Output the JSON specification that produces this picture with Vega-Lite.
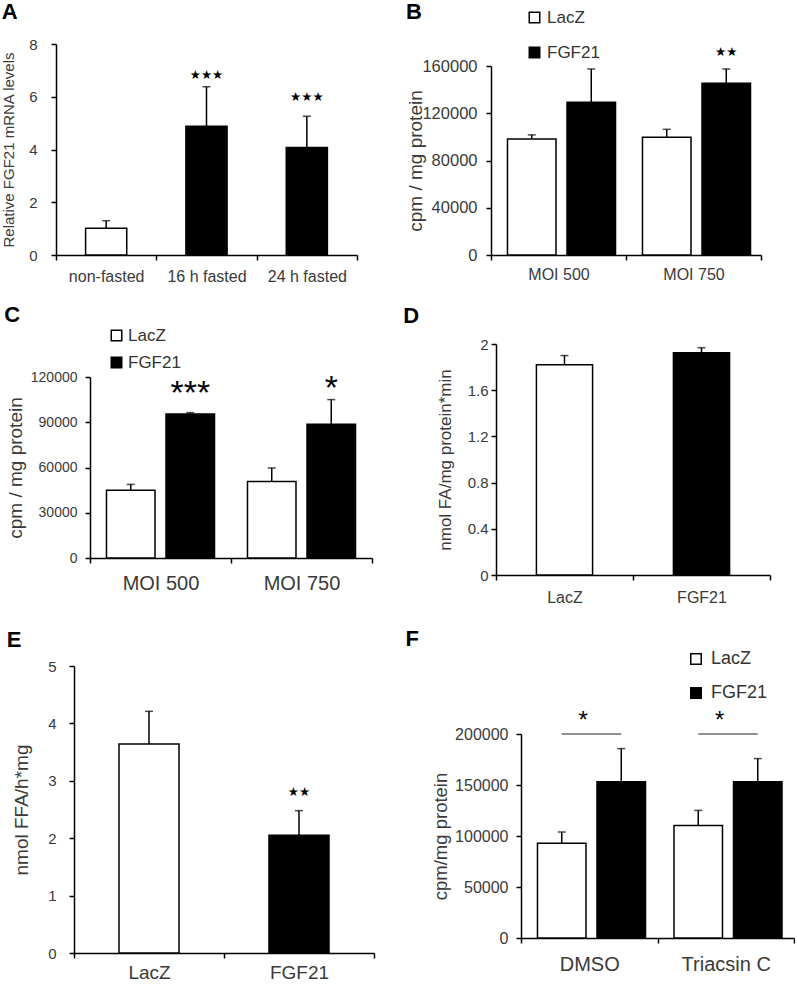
{
  "$schema": "https://vega.github.io/schema/vega-lite/v6.json",
  "padding": 0,
  "spacing": 0,
  "columns": 2,
  "align": "none",
  "resolve": {"scale": {"fill": "independent"}, "legend": {"fill": "independent"}},
  "config": {
    "view": {"stroke": null},
    "axis": {"domainColor": "black", "domainWidth": 1.5, "tickColor": "black", "tickWidth": 1.5, "tickSize": 5, "grid": false,
      "labelColor": "#3a3a3a", "titleColor": "#3a3a3a", "labelFont": "Liberation Sans", "titleFont": "Liberation Sans", "titleFontWeight": "normal"},
    "legend": {"labelFont": "Liberation Sans", "labelColor": "#333333", "symbolType": "square", "symbolSize": 110, "symbolStrokeColor": "black", "symbolStrokeWidth": 1.5, "padding": 0},
    "title": {"font": "Liberation Sans", "fontSize": 22, "fontWeight": "bold", "anchor": "start", "color": "black"}
  },
  "concat": [
    {
      "columns": 1, "align": "none", "spacing": 0,
      "resolve": {"scale": {"fill": "independent"}, "legend": {"fill": "independent"}},
      "concat": [
        {"width": 1, "height": 1, "data": {"values": []}, "mark": "point"},
        {
          "columns": 2, "align": "none", "spacing": 0,
          "resolve": {"scale": {"fill": "independent"}, "legend": {"fill": "independent"}},
          "concat": [
            {"width": 1, "height": 260, "data": {"values": []}, "mark": "point"},
            {
              "title": {"text": "A", "offset": 13},
              "width": 301, "height": 211,
              "data": {"values": [
                {"cond": "non-fasted", "kind": "control", "value": 1.01, "errTop": 1.30, "sig": ""},
                {"cond": "16 h fasted", "kind": "fasted", "value": 4.88, "errTop": 6.38, "sig": "★★★"},
                {"cond": "24 h fasted", "kind": "fasted", "value": 4.08, "errTop": 5.26, "sig": "★★★"}
              ]},
              "encoding": {
                "x": {"field": "cond", "type": "nominal", "sort": null, "scale": {"paddingInner": 0, "paddingOuter": 0},
                  "axis": {"title": null, "labelAngle": 0, "tickBand": "extent", "labelFontSize": 16, "labelPadding": 8}}
              },
              "layer": [
                {"mark": {"type": "bar", "width": {"band": 0.41}, "stroke": "black", "strokeWidth": 1.5},
                 "encoding": {
                   "y": {"field": "value", "type": "quantitative", "scale": {"domain": [0, 8], "nice": false},
                     "axis": {"values": [0, 2, 4, 6, 8], "format": "d", "labelFontSize": 15, "labelPadding": 14, "title": "Relative FGF21 mRNA levels", "titleFontSize": 15, "titlePadding": 12}},
                   "fill": {"field": "kind", "type": "nominal", "scale": {"domain": ["control", "fasted"], "range": ["white", "black"]}, "legend": null}
                 }},
                {"mark": {"type": "rule", "strokeWidth": 1.5, "color": "black"},
                 "encoding": {"y": {"field": "value", "type": "quantitative"}, "y2": {"field": "errTop"}}},
                {"mark": {"type": "tick", "color": "black", "size": 8, "thickness": 1.5},
                 "encoding": {"y": {"field": "errTop", "type": "quantitative"}}},
                {"transform": [{"filter": "datum.cond == '16 h fasted'"}],
                 "mark": {"type": "text", "font": "DejaVu Sans", "fontSize": 12.5, "baseline": "alphabetic", "dy": -8, "color": "black"},
                 "encoding": {"y": {"field": "errTop", "type": "quantitative"}, "text": {"field": "sig"}}},
                {"transform": [{"filter": "datum.cond == '24 h fasted'"}],
                 "mark": {"type": "text", "font": "DejaVu Sans", "fontSize": 12.5, "baseline": "alphabetic", "dy": -15, "color": "black"},
                 "encoding": {"y": {"field": "errTop", "type": "quantitative"}, "text": {"field": "sig"}}}
              ]
            }
          ]
        },
        {
          "columns": 2, "align": "none", "spacing": 0,
          "resolve": {"scale": {"fill": "independent"}, "legend": {"fill": "independent"}},
          "concat": [
            {"width": 4, "height": 252, "data": {"values": []}, "mark": "point"},
            {
              "title": {"text": "C", "dx": -2, "offset": 0},
              "width": 282, "height": 181,
              "data": {"values": [
                {"moi": "MOI 500", "series": "LacZ", "value": 44900, "errTop": 48800, "sig": ""},
                {"moi": "MOI 500", "series": "FGF21", "value": 95500, "errTop": 96400, "sig": "***"},
                {"moi": "MOI 750", "series": "LacZ", "value": 50800, "errTop": 59700, "sig": ""},
                {"moi": "MOI 750", "series": "FGF21", "value": 88600, "errTop": 105000, "sig": "*"}
              ]},
              "encoding": {
                "x": {"field": "moi", "type": "nominal", "sort": null, "scale": {"paddingInner": 0, "paddingOuter": 0},
                  "axis": {"title": null, "labelAngle": 0, "tickBand": "extent", "labelFontSize": 20, "labelPadding": 10}},
                "xOffset": {"field": "series", "type": "nominal", "sort": null, "scale": {"domain": ["LacZ", "FGF21"], "paddingInner": 0.185, "paddingOuter": 0.277}}
              },
              "layer": [
                {"mark": {"type": "bar", "stroke": "black", "strokeWidth": 1.5},
                 "encoding": {
                   "y": {"field": "value", "type": "quantitative", "scale": {"domain": [0, 120000], "nice": false},
                     "axis": {"values": [0, 30000, 60000, 90000, 120000], "format": "d", "labelFontSize": 14, "labelPadding": 8, "title": "cpm / mg protein", "titleFontSize": 19, "titlePadding": 5}},
                   "fill": {"field": "series", "type": "nominal", "scale": {"domain": ["LacZ", "FGF21"], "range": ["white", "black"]},
                     "legend": {"title": null, "orient": "none", "legendX": 18, "legendY": -50, "direction": "vertical", "labelFontSize": 17, "rowPadding": 9, "labelOffset": 3}}
                 }},
                {"mark": {"type": "rule", "strokeWidth": 1.5, "color": "black"},
                 "encoding": {"y": {"field": "value", "type": "quantitative"}, "y2": {"field": "errTop"}}},
                {"mark": {"type": "tick", "color": "black", "size": 8, "thickness": 1.5},
                 "encoding": {"y": {"field": "errTop", "type": "quantitative"}}},
                {"transform": [{"filter": "datum.sig == '***'"}],
                 "mark": {"type": "text", "font": "Liberation Sans", "fontSize": 34, "baseline": "alphabetic", "dy": -9, "color": "black"},
                 "encoding": {"y": {"field": "errTop", "type": "quantitative"}, "text": {"field": "sig"}}},
                {"transform": [{"filter": "datum.sig == '*'"}],
                 "mark": {"type": "text", "font": "Liberation Sans", "fontSize": 34, "baseline": "alphabetic", "dy": -1, "color": "black"},
                 "encoding": {"y": {"field": "errTop", "type": "quantitative"}, "text": {"field": "sig"}}}
              ]
            }
          ]
        },
        {
          "columns": 2, "align": "none", "spacing": 0,
          "resolve": {"scale": {"fill": "independent"}, "legend": {"fill": "independent"}},
          "concat": [
            {"width": 6, "height": 1, "data": {"values": []}, "mark": "point"},
            {
              "title": {"text": "E", "dx": -6, "offset": 7},
              "width": 300, "height": 287,
              "data": {"values": [
                {"sample": "LacZ", "value": 3.64, "errTop": 4.21, "sig": ""},
                {"sample": "FGF21", "value": 2.05, "errTop": 2.48, "sig": "★★"}
              ]},
              "encoding": {
                "x": {"field": "sample", "type": "nominal", "sort": null, "scale": {"paddingInner": 0, "paddingOuter": 0},
                  "axis": {"title": null, "labelAngle": 0, "tickBand": "extent", "labelFontSize": 19, "labelPadding": 5}}
              },
              "layer": [
                {"mark": {"type": "bar", "width": {"band": 0.4}, "stroke": "black", "strokeWidth": 1.5},
                 "encoding": {
                   "y": {"field": "value", "type": "quantitative", "scale": {"domain": [0, 5], "nice": false},
                     "axis": {"values": [0, 1, 2, 3, 4, 5], "format": "d", "labelFontSize": 15, "labelPadding": 13, "title": "nmol FFA/h*mg", "titleFontSize": 19, "titlePadding": 16}},
                   "fill": {"field": "sample", "type": "nominal", "scale": {"domain": ["LacZ", "FGF21"], "range": ["white", "black"]}, "legend": null}
                 }},
                {"mark": {"type": "rule", "strokeWidth": 1.5, "color": "black"},
                 "encoding": {"y": {"field": "value", "type": "quantitative"}, "y2": {"field": "errTop"}}},
                {"mark": {"type": "tick", "color": "black", "size": 8, "thickness": 1.5},
                 "encoding": {"y": {"field": "errTop", "type": "quantitative"}}},
                {"mark": {"type": "text", "font": "DejaVu Sans", "fontSize": 12.5, "baseline": "alphabetic", "dy": -15, "color": "black"},
                 "encoding": {"y": {"field": "errTop", "type": "quantitative"}, "text": {"field": "sig"}}}
              ]
            }
          ]
        }
      ]
    },
    {
      "columns": 1, "align": "none", "spacing": 0,
      "resolve": {"scale": {"fill": "independent"}, "legend": {"fill": "independent"}},
      "concat": [
        {"width": 1, "height": 1, "data": {"values": []}, "mark": "point"},
        {
          "columns": 2, "align": "none", "spacing": 0,
          "resolve": {"scale": {"fill": "independent"}, "legend": {"fill": "independent"}},
          "concat": [
            {"width": 30, "height": 239, "data": {"values": []}, "mark": "point"},
            {
              "title": {"text": "B", "dx": -1, "offset": -15},
              "width": 270, "height": 189,
              "data": {"values": [
                {"moi": "MOI 500", "series": "LacZ", "value": 98300, "errTop": 101700, "sig": ""},
                {"moi": "MOI 500", "series": "FGF21", "value": 129300, "errTop": 157500, "sig": ""},
                {"moi": "MOI 750", "series": "LacZ", "value": 99700, "errTop": 106400, "sig": ""},
                {"moi": "MOI 750", "series": "FGF21", "value": 145300, "errTop": 157500, "sig": "★★"}
              ]},
              "encoding": {
                "x": {"field": "moi", "type": "nominal", "sort": null, "scale": {"paddingInner": 0, "paddingOuter": 0},
                  "axis": {"title": null, "labelAngle": 0, "tickBand": "extent", "labelFontSize": 16, "labelPadding": 6}},
                "xOffset": {"field": "series", "type": "nominal", "sort": null, "scale": {"domain": ["LacZ", "FGF21"], "paddingInner": 0.21, "paddingOuter": 0.3}}
              },
              "layer": [
                {"mark": {"type": "bar", "stroke": "black", "strokeWidth": 1.5},
                 "encoding": {
                   "y": {"field": "value", "type": "quantitative", "scale": {"domain": [0, 160000], "nice": false},
                     "axis": {"values": [0, 40000, 80000, 120000, 160000], "format": "d", "labelFontSize": 16.5, "labelPadding": 9, "title": "cpm / mg protein", "titleFontSize": 19, "titlePadding": -4}},
                   "fill": {"field": "series", "type": "nominal", "scale": {"domain": ["LacZ", "FGF21"], "range": ["white", "black"]},
                     "legend": {"title": null, "orient": "none", "legendX": 35, "legendY": -57, "direction": "vertical", "labelFontSize": 17, "rowPadding": 17, "labelOffset": 4}}
                 }},
                {"mark": {"type": "rule", "strokeWidth": 1.5, "color": "black"},
                 "encoding": {"y": {"field": "value", "type": "quantitative"}, "y2": {"field": "errTop"}}},
                {"mark": {"type": "tick", "color": "black", "size": 8, "thickness": 1.5},
                 "encoding": {"y": {"field": "errTop", "type": "quantitative"}}},
                {"mark": {"type": "text", "font": "DejaVu Sans", "fontSize": 12.5, "baseline": "alphabetic", "dy": -13, "color": "black"},
                 "encoding": {"y": {"field": "errTop", "type": "quantitative"}, "text": {"field": "sig"}}}
              ]
            }
          ]
        },
        {
          "columns": 2, "align": "none", "spacing": 0,
          "resolve": {"scale": {"fill": "independent"}, "legend": {"fill": "independent"}},
          "concat": [
            {"width": 28, "height": 284, "data": {"values": []}, "mark": "point"},
            {
              "title": {"text": "D", "dx": -33, "offset": 9},
              "width": 274, "height": 231,
              "data": {"values": [
                {"sample": "LacZ", "value": 1.82, "errTop": 1.90},
                {"sample": "FGF21", "value": 1.925, "errTop": 1.968}
              ]},
              "encoding": {
                "x": {"field": "sample", "type": "nominal", "sort": null, "scale": {"paddingInner": 0, "paddingOuter": 0},
                  "axis": {"title": null, "labelAngle": 0, "tickBand": "extent", "labelFontSize": 16, "labelPadding": 9}}
              },
              "layer": [
                {"mark": {"type": "bar", "width": {"band": 0.41}, "stroke": "black", "strokeWidth": 1.5},
                 "encoding": {
                   "y": {"field": "value", "type": "quantitative", "scale": {"domain": [0, 2], "nice": false},
                     "axis": {"values": [0, 0.4, 0.8, 1.2, 1.6, 2], "format": ".1~f", "labelFontSize": 15, "labelPadding": 3, "title": "nmol FA/mg protein*min", "titleFontSize": 17, "titlePadding": 13}},
                   "fill": {"field": "sample", "type": "nominal", "scale": {"domain": ["LacZ", "FGF21"], "range": ["white", "black"]}, "legend": null}
                 }},
                {"mark": {"type": "rule", "strokeWidth": 1.5, "color": "black"},
                 "encoding": {"y": {"field": "value", "type": "quantitative"}, "y2": {"field": "errTop"}}},
                {"mark": {"type": "tick", "color": "black", "size": 8, "thickness": 1.5},
                 "encoding": {"y": {"field": "errTop", "type": "quantitative"}}}
              ]
            }
          ]
        },
        {
          "columns": 2, "align": "none", "spacing": 0,
          "resolve": {"scale": {"fill": "independent"}, "legend": {"fill": "independent"}},
          "concat": [
            {"width": 30, "height": 1, "data": {"values": []}, "mark": "point"},
            {
              "title": {"text": "F", "dx": -26, "offset": -1},
              "width": 273, "height": 204,
              "data": {"values": [
                {"grp": "DMSO", "series": "LacZ", "value": 92800, "errTop": 103900},
                {"grp": "DMSO", "series": "FGF21", "value": 153100, "errTop": 185700},
                {"grp": "Triacsin C", "series": "LacZ", "value": 110400, "errTop": 125100},
                {"grp": "Triacsin C", "series": "FGF21", "value": 153100, "errTop": 175900}
              ]},
              "encoding": {
                "x": {"field": "grp", "type": "nominal", "sort": null, "scale": {"paddingInner": 0, "paddingOuter": 0},
                  "axis": {"title": null, "labelAngle": 0, "tickBand": "extent", "labelFontSize": 20, "labelPadding": 11}},
                "xOffset": {"field": "series", "type": "nominal", "sort": null, "scale": {"domain": ["LacZ", "FGF21"], "paddingInner": 0.193, "paddingOuter": 0.29}}
              },
              "layer": [
                {"mark": {"type": "bar", "stroke": "black", "strokeWidth": 1.5},
                 "encoding": {
                   "y": {"field": "value", "type": "quantitative", "scale": {"domain": [0, 200000], "nice": false},
                     "axis": {"values": [0, 50000, 100000, 150000, 200000], "format": "d", "labelFontSize": 16, "labelPadding": 8, "title": "cpm/mg protein", "titleFontSize": 18.5, "titlePadding": 4}},
                   "fill": {"field": "series", "type": "nominal", "scale": {"domain": ["LacZ", "FGF21"], "range": ["white", "black"]},
                     "legend": {"title": null, "orient": "none", "legendX": 166, "legendY": -84, "direction": "vertical", "labelFontSize": 18, "rowPadding": 16, "labelOffset": 6}}
                 }},
                {"mark": {"type": "rule", "strokeWidth": 1.5, "color": "black"},
                 "encoding": {"y": {"field": "value", "type": "quantitative"}, "y2": {"field": "errTop"}}},
                {"mark": {"type": "tick", "color": "black", "size": 8, "thickness": 1.5},
                 "encoding": {"y": {"field": "errTop", "type": "quantitative"}}},
                {"mark": {"type": "line", "strokeWidth": 1, "color": "#222222"},
                 "encoding": {"y": {"datum": 200000}, "detail": {"field": "grp"}}},
                {"data": {"values": [{"grp": "DMSO", "sig": "*"}, {"grp": "Triacsin C", "sig": "*"}]},
                 "mark": {"type": "text", "font": "Liberation Sans", "fontSize": 24, "baseline": "alphabetic", "dy": -6, "xOffset": -6, "color": "black"},
                 "encoding": {"xOffset": null, "y": {"datum": 200000}, "text": {"field": "sig"}}}
              ]
            }
          ]
        }
      ]
    }
  ]
}
